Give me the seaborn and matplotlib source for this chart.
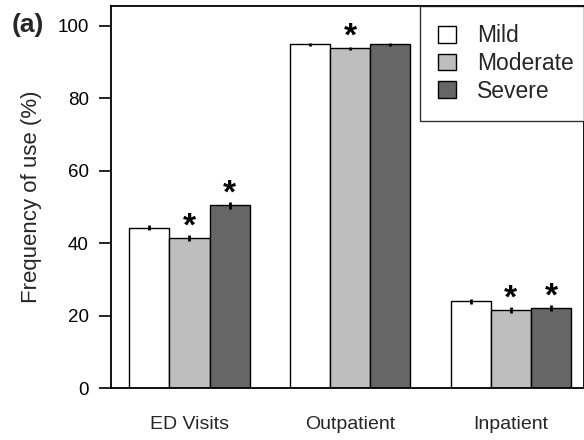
import matplotlib
matplotlib.use("Agg")
import matplotlib.pyplot as plt
import matplotlib.patches as mpatches
import seaborn as sns
import pandas as pd

categories = ["ED Visits", "Outpatient", "Inpatient"]
severity = ["Mild", "Moderate", "Severe"]
mild = [44.3, 94.9, 23.9]
moderate = [41.4, 93.8, 21.6]
severe = [50.5, 94.9, 22.1]
err_mild = [0.8, 0.4, 0.8]
err_moderate = [0.8, 0.4, 0.8]
err_severe = [1.0, 0.4, 0.9]
star_mild = [False, False, False]
star_moderate = [True, True, True]
star_severe = [True, False, True]
colors = ["#ffffff", "#bebebe", "#666666"]
yticks = [0, 20, 40, 60, 80, 100]

sns.set_theme(style="white")
plt.rcParams["font.family"] = ["Liberation Sans", "DejaVu Sans"]

rows = []
for cat, a, b, c in zip(categories, mild, moderate, severe):
    rows += [(cat, "Mild", a), (cat, "Moderate", b), (cat, "Severe", c)]
df = pd.DataFrame(rows, columns=["category", "severity", "value"])

fig = plt.figure(figsize=(5.84, 4.4), dpi=100)
ax = fig.add_axes([111 / 584, 52 / 440, 473 / 584, 382 / 440])
sns.barplot(data=df, x="category", y="value", hue="severity", order=categories,
            hue_order=severity, palette=colors, width=0.75, edgecolor="black",
            linewidth=1.0, saturation=1, errorbar=None, legend=False, ax=ax)

errs = [err_mild, err_moderate, err_severe]
vals = [mild, moderate, severe]
stars = [star_mild, star_moderate, star_severe]
for cont, e, v, s in zip(ax.containers, errs, vals, stars):
    for bar, ei, vi, si in zip(cont, e, v, s):
        xc = bar.get_x() + bar.get_width() / 2
        ax.errorbar(xc, vi, yerr=ei, fmt="none", ecolor="black", elinewidth=2, capsize=0)
        if si:
            ax.text(xc, vi + 3.0, "*", ha="center", va="center", fontsize=24,
                    fontweight="bold", color="black")

ax.set_ylim(0, 105.5)
ax.set_xlim(-0.488, 2.455)
ax.set_yticks(yticks)
ax.set_yticklabels([str(t) for t in yticks], fontsize=13.5)
ax.tick_params(axis="y", direction="out", length=9, width=1.2, pad=7, left=True, colors="black")
ax.tick_params(axis="x", length=0, pad=20, labelsize=14)
ax.set_xlabel("")
ax.set_ylabel("Frequency of use (%)", fontsize=16)
ax.yaxis.set_label_coords(-0.146, 0.5)
for sp in ax.spines.values():
    sp.set_color("black")
    sp.set_linewidth(1.3)

handles = [mpatches.Patch(facecolor=c, edgecolor="black", linewidth=1.0, label=l)
           for c, l in zip(colors, severity)]
leg = ax.legend(handles=handles, loc="upper left", bbox_to_anchor=(309 / 473, 1.0),
                borderaxespad=0, fontsize=16.5, frameon=True, fancybox=False,
                handlelength=0.75, handleheight=0.75, handletextpad=0.95,
                borderpad=0.8, labelspacing=0.2)
leg.get_frame().set_edgecolor("black")
leg.get_frame().set_linewidth(1.0)

fig.text(12 / 584, 1 - 25 / 440, "(a)", fontsize=19, fontweight="bold", va="center", ha="left")

fig.savefig("out.png", dpi=100)
